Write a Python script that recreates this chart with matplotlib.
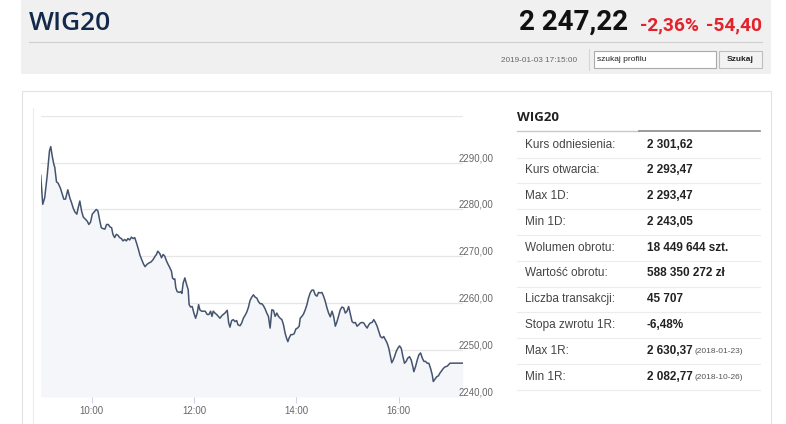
import matplotlib
matplotlib.use("Agg")
import matplotlib.pyplot as plt
from matplotlib.patches import Rectangle

# ---------------- data ----------------
index_name = "WIG20"
last_price = "2 247,22"
change_pct = "-2,36%"
change_abs = "-54,40"
timestamp = "2019-01-03 17:15:00"

# minutes after 09:00
times = [
    0, 2.4, 4.7, 7.6, 10.3, 11.8, 13.4, 15.3, 16.5, 18.5,
    20.5, 23.2, 25.2, 27.1, 29.1, 31.8, 34.1, 36.1, 38.1, 40.0,
    42.4, 44.0, 45.9, 47.9, 49.9, 52.6, 54.6, 56.5, 58.5, 60.5,
    62.9, 65.2, 67.1, 69.4, 71.1, 73.4, 75.3, 77.3, 79.3, 81.2,
    83.2, 84.7, 86.7, 88.7, 90.6, 92.6, 94.6, 96.5, 98.5, 100.5,
    102.4, 104.4, 106.4, 108.3, 110.3, 112.3, 114.6, 116.5, 118.5, 120.5,
    122.4, 124.7, 127.1, 129.4, 131.8, 134.1, 135.8, 137.3, 139.7, 141.7,
    143.6, 145.6, 147.6, 149.4, 151.4, 153.4, 154.6, 156.1, 157.3, 158.5,
    160.0, 162.4, 164.4, 165.6, 167.1, 169.1, 171.1, 173.0, 174.1, 175.8,
    177.7, 179.7, 181.7, 183.6, 185.2, 186.7, 188.7, 190.6, 193.0, 195.3,
    197.3, 199.3, 200.9, 202.4, 204.4, 206.4, 208.3, 210.3, 212.3, 214.1,
    216.1, 218.8, 220.5, 222.0, 224.0, 225.9, 227.9, 229.9, 231.4, 233.8,
    235.8, 237.7, 239.7, 241.7, 243.6, 245.6, 247.6, 249.5, 251.5, 253.5,
    255.3, 257.3, 259.3, 261.2, 263.2, 265.2, 267.1, 269.1, 271.1, 273.0,
    275.0, 277.0, 278.9, 280.9, 282.9, 284.8, 286.7, 288.3, 289.9, 291.4,
    293.4, 295.3, 297.3, 299.3, 301.2, 303.2, 304.4, 306.4, 308.3, 310.3,
    312.3, 314.1, 316.1, 318.1, 320.0, 322.0, 324.0, 325.9, 327.9, 329.9,
    331.8, 333.8, 335.8, 337.7, 339.7, 341.7, 343.6, 345.6, 347.6, 349.4,
    351.4, 353.4, 355.4, 357.3, 359.3, 361.2, 363.2, 365.2, 367.1, 369.1,
    371.1, 373.0, 375.0, 377.0, 378.9, 380.9, 382.9, 384.8, 386.7, 388.7,
    390.7, 392.6, 394.6, 396.5, 398.5, 400.5, 402.4, 404.4, 406.4, 408.3,
    410.3, 411.8, 413.5, 415.0, 417.0, 418.9, 420.9, 422.9, 424.9, 426.7,
    428.7, 430.6, 432.6, 434.6, 436.5, 437.7, 439.7, 441.7, 443.6, 445.6,
    447.6, 449.5, 451.4, 453.4, 455.3, 457.3, 459.3, 460.5, 462.4, 464.4,
    466.4, 468.3, 470.3, 472.3, 474.1, 477.0, 480.0, 482.8, 495.0,
]
values = [
    2287.3, 2281.1, 2282.5, 2287.2, 2292.5, 2293.4, 2291.5, 2289.7, 2289.0, 2285.9,
    2285.6, 2284.5, 2283.3, 2282.2, 2282.2, 2284.2, 2282.5, 2281.5, 2280.3, 2279.5,
    2279.0, 2280.4, 2281.8, 2279.7, 2278.4, 2277.9, 2277.5, 2276.8, 2277.3, 2279.0,
    2279.5, 2280.0, 2279.7, 2277.5, 2276.1, 2275.9, 2275.8, 2276.8, 2276.8, 2276.3,
    2276.1, 2274.7, 2274.0, 2274.7, 2274.5, 2274.0, 2273.8, 2273.3, 2273.6, 2273.3,
    2273.8, 2273.5, 2274.1, 2273.8, 2274.0, 2272.9, 2271.5, 2270.2, 2269.3, 2268.4,
    2267.8, 2268.3, 2268.6, 2268.8, 2269.3, 2270.0, 2270.4, 2271.1, 2270.6, 2269.7,
    2270.4, 2270.0, 2269.0, 2268.3, 2267.6, 2266.8, 2265.4, 2265.1, 2265.2, 2263.3,
    2262.5, 2262.3, 2262.5, 2262.1, 2264.3, 2265.4, 2264.0, 2262.9, 2259.7, 2259.2,
    2259.3, 2257.9, 2256.8, 2257.9, 2259.7, 2258.6, 2258.3, 2258.3, 2258.3, 2257.6,
    2257.6, 2258.3, 2257.2, 2258.3, 2257.9, 2257.6, 2257.2, 2256.8, 2257.3, 2257.6,
    2257.9, 2258.5, 2255.8, 2254.9, 2256.3, 2256.5, 2256.1, 2256.3, 2255.4, 2255.2,
    2255.8, 2256.8, 2257.4, 2258.1, 2259.1, 2260.6, 2261.3, 2261.8, 2261.3, 2261.1,
    2260.4, 2259.9, 2259.9, 2259.5, 2258.8, 2257.9, 2257.2, 2254.7, 2258.6, 2258.5,
    2257.2, 2257.9, 2257.2, 2256.8, 2256.5, 2255.4, 2253.6, 2252.6, 2251.8, 2252.6,
    2253.3, 2253.3, 2253.5, 2254.5, 2254.7, 2255.1, 2256.8, 2257.2, 2257.7, 2258.6,
    2259.7, 2261.1, 2262.2, 2262.8, 2262.8, 2261.8, 2261.5, 2262.3, 2262.2, 2262.3,
    2261.5, 2260.4, 2259.0, 2257.9, 2257.1, 2258.3, 2257.2, 2255.1, 2256.1, 2257.3,
    2258.6, 2259.2, 2259.0, 2257.9, 2258.3, 2259.3, 2257.7, 2256.1, 2255.8, 2255.9,
    2255.1, 2255.4, 2255.8, 2255.9, 2255.8, 2255.2, 2254.7, 2255.4, 2255.8, 2255.9,
    2256.5, 2255.9, 2255.1, 2254.0, 2252.9, 2252.6, 2252.9, 2252.2, 2251.5, 2250.4,
    2248.6, 2247.3, 2247.9, 2248.6, 2249.7, 2250.4, 2250.9, 2250.4, 2248.6, 2247.2,
    2247.6, 2248.3, 2248.6, 2247.9, 2246.5, 2245.4, 2246.5, 2247.9, 2249.0, 2249.4,
    2248.3, 2247.6, 2247.6, 2247.2, 2247.2, 2246.1, 2244.7, 2243.3, 2243.8, 2244.3,
    2244.5, 2245.1, 2245.6, 2246.1, 2246.4, 2246.6, 2247.2, 2247.22, 2247.22,
]

y_ticks = [2240, 2250, 2260, 2270, 2280, 2290]
y_grid = [2240, 2250, 2260, 2270, 2280, 2290, 2300]
x_tick_pos = [60, 180, 300, 420]
x_tick_labels = ["10:00", "12:00", "14:00", "16:00"]

table_title = "WIG20"
row_labels = ["Kurs odniesienia:", "Kurs otwarcia:", "Max 1D:", "Min 1D:",
              "Wolumen obrotu:", "Wartość obrotu:", "Liczba transakcji:",
              "Stopa zwrotu 1R:", "Max 1R:", "Min 1R:"]
row_values = ["2 301,62", "2 293,47", "2 293,47", "2 243,05",
              "18 449 644 szt.", "588 350 272 zł", "45 707",
              "-6,48%", "2 630,37", "2 082,77"]
row_notes = ["", "", "", "", "", "", "", "", "(2018-01-23)", "(2018-10-26)"]

# ---------------- figure ----------------
W, H = 786, 424
fig = plt.figure(figsize=(W / 100, H / 100), dpi=100)
fig.patch.set_facecolor("white")

bg = fig.add_axes([0, 0, 1, 1], zorder=0)
bg.set_xlim(0, W)
bg.set_ylim(H, 0)
bg.axis("off")

SANS = ["Liberation Sans", "DejaVu Sans"]

# header
bg.add_patch(Rectangle((21, 0), 750, 74, fc="#f0f0f0", ec="none"))
bg.plot([29, 762], [42, 42], color="#cfcfcf", lw=0.8)
bg.text(29, 29.5, index_name, fontsize=19, family=["Open Sans", "DejaVu Sans"],
        weight="semibold", color="#13294b", va="baseline", ha="left")
bg.text(628, 30, last_price, fontsize=20, family=["Roboto", "DejaVu Sans"],
        weight="bold", color="#111111", va="baseline", ha="right")
bg.text(640, 30, change_pct, fontsize=13.8, family=["Roboto", "DejaVu Sans"],
        weight="bold", color="#e3222b", va="baseline", ha="left")
bg.text(762, 30, change_abs, fontsize=13.8, family=["Roboto", "DejaVu Sans"],
        weight="bold", color="#e3222b", va="baseline", ha="right")
bg.text(577, 62, timestamp, fontsize=5.9, family=SANS, color="#666666",
        va="baseline", ha="right")
bg.plot([589, 589], [49, 70], color="#d5d5d5", lw=0.8)
bg.add_patch(Rectangle((594, 51), 122, 17, fc="white", ec="#a9a9a9", lw=0.8))
bg.text(597, 59.5, "szukaj profilu", fontsize=6, family=SANS, color="#222222",
        va="center", ha="left")
bg.add_patch(Rectangle((719, 51), 43, 17, fc="#f3f3f3", ec="#bdbdbd", lw=0.8))
bg.text(740.5, 59.8, "Szukaj", fontsize=6, family=SANS, weight="bold",
        color="#222222", va="center", ha="center")

# card
bg.add_patch(Rectangle((22, 91), 749, 345, fc="white", ec="#e2e2e2", lw=0.8))
bg.plot([33, 33], [108, 424], color="#ececec", lw=0.8)

# table
bg.text(517, 121, table_title, fontsize=9.5, family=["Open Sans", "DejaVu Sans"],
        weight="bold", color="#222222", va="baseline", ha="left")
bg.plot([517, 639], [131, 131], color="#c8c8c8", lw=1.0)
bg.plot([639, 760], [131, 131], color="#8a8a8a", lw=1.2)
row_y0, row_step = 144.5, 25.8
value_texts = []
for i, (lab, val) in enumerate(zip(row_labels, row_values)):
    yc = row_y0 + i * row_step
    bg.text(525, yc, lab, fontsize=8.5, family=SANS, color="#444444",
            va="center", ha="left")
    t = bg.text(646.7, yc, val, fontsize=8.5, family=SANS, weight="bold",
                color="#222222", va="center", ha="left")
    value_texts.append(t)
    bg.plot([517, 760], [yc + 13, yc + 13], color="#ececec", lw=0.8)

# chart
x0, x1 = 40.7, 462.7
yb, yt = 397.0, 115.7
ax = fig.add_axes([x0 / W, (H - yb) / H, (x1 - x0) / W, (yb - yt) / H], zorder=1)
ax.patch.set_alpha(0)
ax.set_xlim(0, 495)
ax.set_ylim(2240, 2300)
for s in ax.spines.values():
    s.set_visible(False)
for g in y_grid[1:]:
    ax.axhline(g, color="#e6e6e6", lw=0.9, zorder=0)
ax.axhline(2240, color="#d4d9e1", lw=0.9, zorder=0)

ax.fill_between(times, values, 2240, color="#f4f6f9", lw=0, zorder=1)
ax.plot(times, values, color="#45546e", lw=1.1, zorder=2)

ax.set_yticks([])
ax.set_xticks(x_tick_pos)
ax.set_xticklabels(x_tick_labels, family=SANS, fontsize=6.9, color="#666666")
ax.tick_params(axis="x", length=4, width=0.8, color="#ccd6eb", pad=2.5)

for v in y_ticks:
    ax.annotate(f"{v},00", xy=(1, v), xycoords=("axes fraction", "data"),
                xytext=(-3.7, 1.5), textcoords="offset pixels",
                fontsize=6.9, family=SANS, color="#666666",
                ha="left", va="baseline", annotation_clip=False)

# notes after bold values
fig.canvas.draw()
r = fig.canvas.get_renderer()
inv = bg.transData.inverted()
for t, note in zip(value_texts, row_notes):
    if note:
        bb = t.get_window_extent(renderer=r)
        xr = inv.transform((bb.x1, bb.y0))[0]
        yc = t.get_position()[1]
        bg.text(xr + 2, yc + 0.5, note, fontsize=6, family=SANS, color="#555555",
                va="center", ha="left")

fig.savefig("out.png", dpi=100, facecolor="white")
